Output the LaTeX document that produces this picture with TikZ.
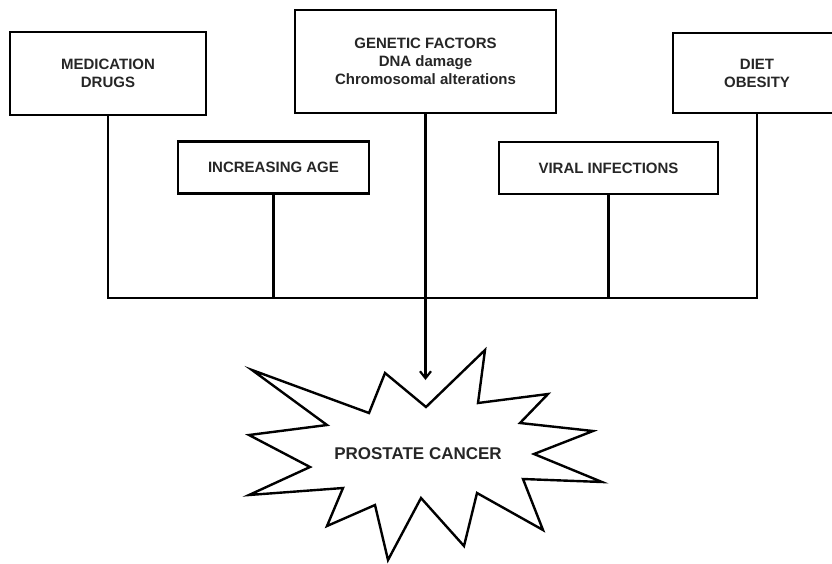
\documentclass[tikz,border=0pt]{standalone}
\usepackage{fontspec}
\setmainfont{Liberation Sans}
\usepackage{tikz}
\usetikzlibrary{arrows.meta,calc,positioning}
\tikzset{%
	factor/.style = {draw, rectangle, line width=2.6pt, inner sep=2pt, text centered, align=center, text=black!85, font=\bfseries\fontsize{15}{18}\selectfont},
	link/.style   = {line width=2.2pt},
	arrow/.style  = {line width=2.2pt, -{Straight Barb[length=7pt,width=11pt,line width=2.2pt]}},
	burst/.style  = {line width=2.4pt, line join=miter, miter limit=20},
}
\begin{document}
\begin{tikzpicture}[x=1pt,y=-1pt]
	\useasboundingbox (0,0) rectangle (832,563);
	% risk factors
	\node[factor, minimum width=196pt, minimum height=83pt] (med) at (108,73.5) {MEDICATION\\DRUGS};
	\node[factor, minimum width=191pt, minimum height=52pt] (age) at (273.5,167.5) {INCREASING AGE};
	\node[factor, minimum width=261pt, minimum height=103pt] (gen) at (425.5,61.5) {GENETIC FACTORS\\DNA damage\\Chromosomal alterations};
	\node[factor, minimum width=219pt, minimum height=52pt] (viral) at (608.5,168) {VIRAL INFECTIONS};
	\node[factor, minimum width=168pt, minimum height=80pt] (diet) at (757,73) {DIET\\OBESITY};
	% common bus
	\coordinate (bus) at (0,298);
	\draw[link] (med.south) |- (bus -| diet.south) -- (diet.south);
	\draw[link] (age.south) -- (age.south |- bus);
	\draw[link] (viral.south) -- (viral.south |- bus);
	\coordinate (tip) at ($(gen.south |- bus)+(0,82)$);
	\draw[arrow] (gen.south) -- (tip);
	% starburst
	\draw[burst] (426,407) -- (485,350) -- (478,403) -- (548,394) -- (520,423) -- (593,431)
		-- (534,454) -- (602,482) -- (523,479) -- (543,530) -- (477,493) -- (464,546)
		-- (421,498) -- (388,560) -- (375,505) -- (327,526) -- (343,488) -- (249,495)
		-- (310,467) -- (249,435) -- (327,425) -- (252,370) -- (369,413) -- (385,373) -- cycle;
	\node[text=black!85, font=\bfseries\fontsize{17}{20}\selectfont] (cancer) at (418,454) {PROSTATE CANCER};
\end{tikzpicture}
\end{document}
